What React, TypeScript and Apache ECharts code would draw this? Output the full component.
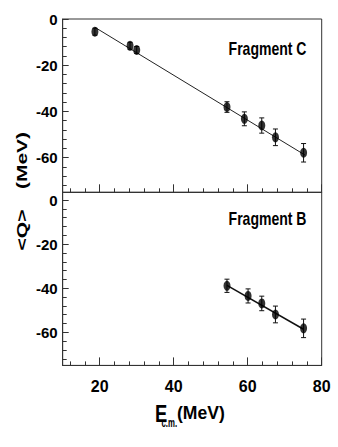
import React, { useEffect, useRef } from "react";
import * as echarts from "echarts";

// ---- data ----
const fragCEnergy = [18.7, 28.2, 30.0, 54.4, 59.1, 63.8, 67.5, 75.1];
const fragCQ = [-5.5, -11.6, -13.4, -38.1, -43.2, -46.1, -51.2, -57.9];
const fragCErr = [1.5, 1.5, 1.5, 2.3, 3.0, 3.3, 3.6, 4.0];
const fragCFitE = [18.7, 75.5];
const fragCFitQ = [-3.6, -58.9];

const fragBEnergy = [54.4, 60.1, 63.8, 67.5, 75.1];
const fragBQ = [-38.9, -43.5, -46.9, -51.9, -58.2];
const fragBErr = [3.0, 3.2, 3.3, 3.8, 4.2];
const fragBFitE = [54.4, 75.1];
const fragBFitQ = [-38.7, -58.6];

const xMajorTicks = [20, 40, 60, 80];
const xMinorTicks = [12, 16, 24, 28, 32, 36, 44, 48, 52, 56, 64, 68, 72, 76];
const yMajorTicks = [0, -20, -40, -60];
const yMinorTicks = [-4, -8, -12, -16, -24, -28, -32, -36, -44, -48, -52, -56, -64, -68, -72];

const xRange = [10, 80];
const yRangeTop = [-75, 0];
const yRangeBottom = [-75, 3.5];

const AXIS_COLOR = "#333";
const TICK_FONT = "'Liberation Sans Narrow', 'Arial Narrow', 'Liberation Sans', Arial, sans-serif";
const TEXT_FONT = "'Liberation Sans', Arial, sans-serif";

function errorBarSeries(xIdx: number, yIdx: number, es: number[], qs: number[], errs: number[]) {
  return {
    type: "custom",
    xAxisIndex: xIdx,
    yAxisIndex: yIdx,
    data: es.map((e, i) => [e, qs[i] - errs[i], qs[i] + errs[i]]),
    encode: { x: 0, y: [1, 2] },
    z: 3,
    renderItem: (params: any, api: any) => {
      const x = api.value(0);
      const lo = api.coord([x, api.value(1)]);
      const hi = api.coord([x, api.value(2)]);
      const w = 2.5;
      const st = { stroke: "#111", lineWidth: 1 };
      return {
        type: "group",
        children: [
          { type: "line", shape: { x1: lo[0], y1: lo[1], x2: hi[0], y2: hi[1] }, style: st },
          { type: "line", shape: { x1: lo[0] - w, y1: lo[1], x2: lo[0] + w, y2: lo[1] }, style: st },
          { type: "line", shape: { x1: hi[0] - w, y1: hi[1], x2: hi[0] + w, y2: hi[1] }, style: st },
        ],
      };
    },
  };
}

function xAxes(gridIndex: number, labels: boolean) {
  return [
    {
      type: "value",
      gridIndex,
      min: xRange[0],
      max: xRange[1],
      position: "bottom",
      axisLine: { show: true, onZero: false, lineStyle: { color: AXIS_COLOR, width: 1 } },
      axisTick: { show: true, inside: true, length: 8, customValues: xMajorTicks, lineStyle: { color: AXIS_COLOR } },
      axisLabel: {
        show: labels,
        customValues: xMajorTicks,
        margin: 13,
        color: "#000",
        fontSize: 16,
        fontWeight: "bold",
        fontFamily: TICK_FONT,
      },
      splitLine: { show: false },
    },
    {
      type: "value",
      gridIndex,
      min: xRange[0],
      max: xRange[1],
      position: "bottom",
      axisLine: { show: false, onZero: false },
      axisTick: { show: true, inside: true, length: 4, customValues: xMinorTicks, lineStyle: { color: AXIS_COLOR } },
      axisLabel: { show: false },
      splitLine: { show: false },
    },
  ];
}

function yAxes(gridIndex: number, range: number[]) {
  return [
    {
      type: "value",
      gridIndex,
      min: range[0],
      max: range[1],
      position: "left",
      axisLine: { show: true, onZero: false, lineStyle: { color: AXIS_COLOR, width: 1 } },
      axisTick: { show: true, inside: true, length: 6, customValues: yMajorTicks, lineStyle: { color: AXIS_COLOR } },
      axisLabel: {
        show: true,
        customValues: yMajorTicks,
        margin: 5,
        color: "#000",
        fontSize: 15,
        fontWeight: "bold",
        fontFamily: TICK_FONT,
      },
      splitLine: { show: false },
    },
    {
      type: "value",
      gridIndex,
      min: range[0],
      max: range[1],
      position: "left",
      axisLine: { show: false, onZero: false },
      axisTick: { show: true, inside: true, length: 4, customValues: yMinorTicks, lineStyle: { color: AXIS_COLOR } },
      axisLabel: { show: false },
      splitLine: { show: false },
    },
  ];
}

export default function App() {
  const ref = useRef<HTMLDivElement>(null);
  useEffect(() => {
    if (!ref.current) return;
    const chart = echarts.init(ref.current, null, { renderer: "svg" });
    const gridBase = { show: true, borderColor: AXIS_COLOR, borderWidth: 1, backgroundColor: "transparent", containLabel: false };
    const yTitleStyle = { fontSize: 15, fontWeight: "bold", fontFamily: TEXT_FONT, fill: "#000", align: "center", verticalAlign: "middle" };
    chart.setOption({
      animation: false,
      backgroundColor: "#fff",
      grid: [
        { ...gridBase, left: 62.7, top: 19, width: 259, height: 173.3 },
        { ...gridBase, left: 62.7, top: 192.3, width: 259, height: 173.1 },
      ],
      xAxis: [...xAxes(0, false), ...xAxes(1, true)],
      yAxis: [...yAxes(0, yRangeTop), ...yAxes(1, yRangeBottom)],
      series: [
        {
          type: "line",
          xAxisIndex: 0,
          yAxisIndex: 0,
          data: fragCFitE.map((e, i) => [e, fragCFitQ[i]]),
          showSymbol: false,
          symbol: "none",
          lineStyle: { color: "#222", width: 1 },
          z: 2,
        },
        errorBarSeries(0, 0, fragCEnergy, fragCQ, fragCErr),
        {
          type: "scatter",
          xAxisIndex: 0,
          yAxisIndex: 0,
          data: fragCEnergy.map((e, i) => [e, fragCQ[i]]),
          symbol: "circle",
          symbolSize: [7, 10],
          itemStyle: { color: "#000" },
          z: 4,
        },
        {
          type: "line",
          xAxisIndex: 2,
          yAxisIndex: 2,
          data: fragBFitE.map((e, i) => [e, fragBFitQ[i]]),
          showSymbol: false,
          symbol: "none",
          lineStyle: { color: "#111", width: 1.5 },
          z: 2,
        },
        errorBarSeries(2, 2, fragBEnergy, fragBQ, fragBErr),
        {
          type: "scatter",
          xAxisIndex: 2,
          yAxisIndex: 2,
          data: fragBEnergy.map((e, i) => [e, fragBQ[i]]),
          symbol: "circle",
          symbolSize: [7, 10],
          itemStyle: { color: "#000" },
          z: 4,
        },
      ],
      graphic: [
        {
          type: "text",
          x: 306.5,
          y: 48.7,
          scaleX: 0.78,
          style: { text: "Fragment C", fontSize: 18, fontWeight: "bold", fontFamily: TEXT_FONT, fill: "#000", align: "right", verticalAlign: "middle" },
        },
        {
          type: "text",
          x: 306.5,
          y: 218.3,
          scaleX: 0.78,
          style: { text: "Fragment B", fontSize: 18, fontWeight: "bold", fontFamily: TEXT_FONT, fill: "#000", align: "right", verticalAlign: "middle" },
        },
        {
          type: "group",
          x: 22,
          y: 230,
          rotation: Math.PI / 2,
          children: [
            { type: "text", x: 0, y: 0, scaleX: 1.4, style: { ...yTitleStyle, text: "<Q>" } },
          ],
        },
        {
          type: "group",
          x: 22,
          y: 160.5,
          rotation: Math.PI / 2,
          children: [
            { type: "text", x: 0, y: 0, scaleX: 1.4, style: { ...yTitleStyle, text: "(MeV)" } },
          ],
        },
        {
          type: "text",
          x: 155,
          y: 413.3,
          scaleX: 0.8,
          style: { text: "E", fontSize: 23, fontWeight: "bold", fontFamily: TEXT_FONT, fill: "#000", align: "left", verticalAlign: "middle" },
        },
        {
          type: "text",
          x: 161.5,
          y: 422,
          scaleX: 0.6,
          style: { text: "c.m.", fontSize: 13, fontWeight: "bold", fontFamily: TEXT_FONT, fill: "#000", align: "left", verticalAlign: "middle" },
        },
        {
          type: "text",
          x: 177,
          y: 413,
          scaleX: 0.95,
          style: { text: "(MeV)", fontSize: 18.5, fontWeight: "bold", fontFamily: TEXT_FONT, fill: "#000", align: "left", verticalAlign: "middle" },
        },
      ],
    });
    return () => chart.dispose();
  }, []);
  return <div ref={ref} style={{ position: "fixed", left: 0, top: 0, width: 338, height: 447 }} />;
}
